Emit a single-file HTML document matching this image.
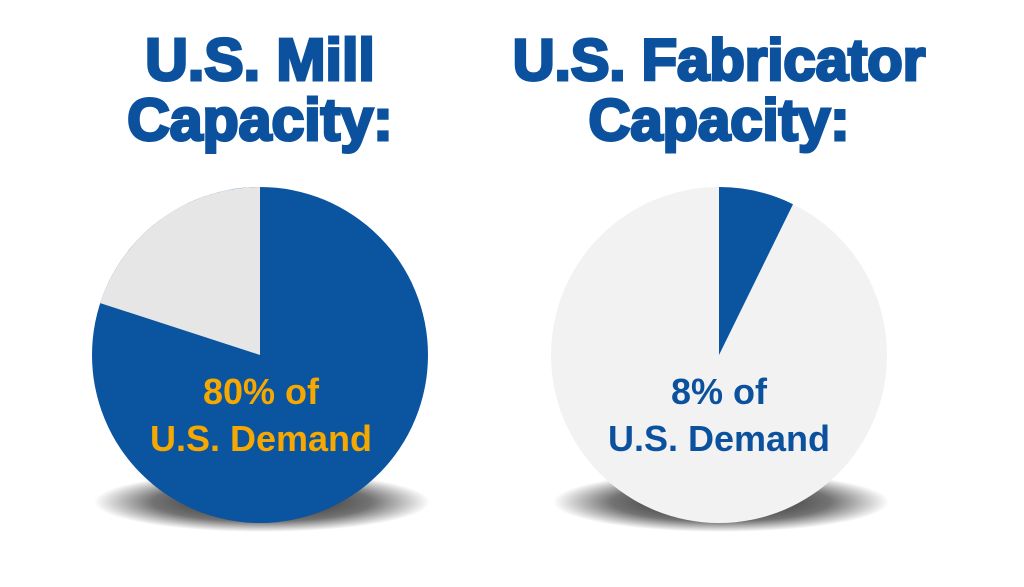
<!DOCTYPE html>
<html><head><meta charset="utf-8"><style>
html,body{margin:0;padding:0;background:#fff;}
body{width:1024px;height:582px;overflow:hidden;}
</style></head><body>
<svg width="1024" height="582" viewBox="0 0 1024 582" xmlns="http://www.w3.org/2000/svg">
<defs>
<radialGradient id="sh" cx="50%" cy="50%" r="50%">
<stop offset="0%" stop-color="#000" stop-opacity="0.9"/>
<stop offset="65%" stop-color="#000" stop-opacity="0.55"/>
<stop offset="100%" stop-color="#000" stop-opacity="0"/>
</radialGradient>
</defs>
<g font-family="Liberation Sans, sans-serif" font-weight="bold" fill="#0b519d" text-anchor="middle">
<text x="260" y="80" font-size="59" stroke="#0b519d" stroke-width="3">U.S. Mill</text>
<text x="260" y="140" font-size="59" stroke="#0b519d" stroke-width="3">Capacity:</text>
<text x="719" y="80" font-size="58" stroke="#0b519d" stroke-width="3">U.S. Fabricator</text>
<text x="719" y="140" font-size="58" stroke="#0b519d" stroke-width="3">Capacity:</text>
</g>
<ellipse cx="262" cy="502" rx="168" ry="30" fill="url(#sh)"/>
<ellipse cx="721" cy="502" rx="168" ry="30" fill="url(#sh)"/>
<circle cx="260" cy="355" r="168" fill="#0a54a0"/>
<path d="M260 355 L260 187 A168 168 0 0 0 100.2 303.1 Z" fill="#e6e6e6"/>
<circle cx="719" cy="355" r="168" fill="#f2f2f2"/>
<path d="M719 355 L719 187 A168 168 0 0 1 793 204.2 Z" fill="#0a54a0"/>
<g font-family="Liberation Sans, sans-serif" font-weight="bold" font-size="36" text-anchor="middle">
<text x="261" y="404" fill="#f6a800">80% of</text>
<text x="261" y="451" fill="#f6a800">U.S. Demand</text>
<text x="719" y="404" fill="#0b519d">8% of</text>
<text x="719" y="451" fill="#0b519d">U.S. Demand</text>
</g>
</svg>
</body></html>
